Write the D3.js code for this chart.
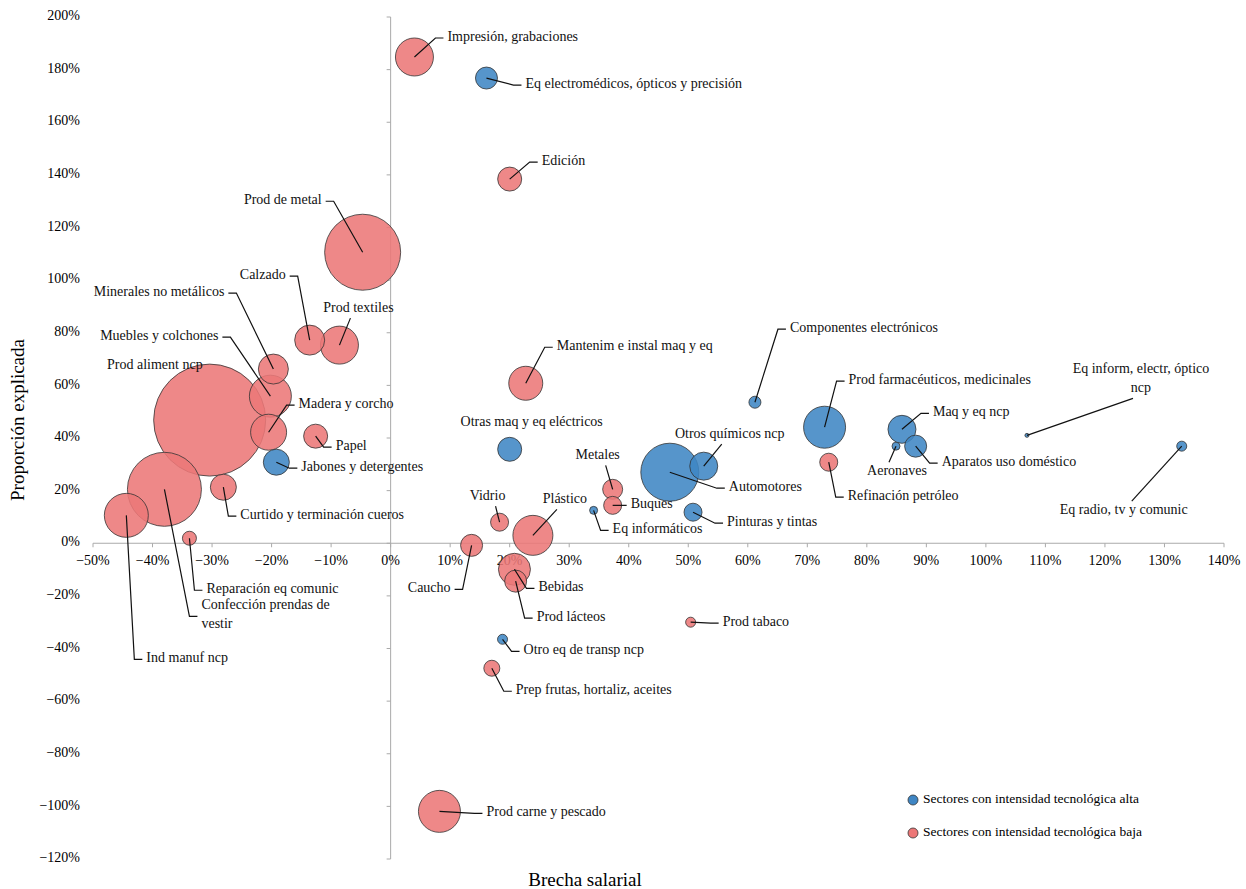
<!DOCTYPE html>
<html>
<head>
<meta charset="utf-8">
<script src="https://cdn.jsdelivr.net/npm/d3@7"></script>
<style>
  body { margin: 0; background: #fff; }
</style>
</head>
<body>
<svg id="chart" width="1246" height="889" font-family="'Liberation Serif', 'DejaVu Serif', serif"></svg>
<script>
// sectors: name, group (alta/baja), brecha salarial, proporcion explicada, size
const names = ["Impresión, grabaciones","Edición","Prod de metal","Calzado","Prod textiles","Minerales no metálicos",
  "Muebles y colchones","Madera y corcho","Prod aliment ncp","Papel","Confección prendas de vestir","Curtido y terminación cueros",
  "Ind manuf ncp","Reparación eq comunic","Mantenim e instal maq y eq","Metales","Buques","Vidrio","Plástico","Caucho",
  "Bebidas","Prod lácteos","Prod tabaco","Refinación petróleo","Prep frutas, hortaliz, aceites","Prod carne y pescado",
  "Eq electromédicos, ópticos y precisión","Otras maq y eq eléctricos","Jabones y detergentes","Eq informáticos","Automotores",
  "Otros químicos ncp","Pinturas y tintas","Componentes electrónicos","Prod farmacéuticos, medicinales","Maq y eq ncp",
  "Aparatos uso doméstico","Aeronaves","Eq inform, electr, óptico ncp","Eq radio, tv y comunic","Otro eq de transp ncp"];
const groups = ["baja","baja","baja","baja","baja","baja","baja","baja","baja","baja","baja","baja","baja","baja","baja","baja",
  "baja","baja","baja","baja","baja","baja","baja","baja","baja","baja",
  "alta","alta","alta","alta","alta","alta","alta","alta","alta","alta","alta","alta","alta","alta","alta"];
const brecha = [0.040,0.200,-0.047,-0.136,-0.086,-0.197,-0.202,-0.205,-0.304,-0.126,-0.380,-0.281,-0.444,-0.338,0.227,0.373,
  0.373,0.183,0.239,0.136,0.208,0.210,0.504,0.736,0.170,0.082,
  0.161,0.200,-0.192,0.341,0.469,0.526,0.508,0.612,0.729,0.859,0.882,0.849,1.069,1.329,0.188];
const proporcion = [1.848,1.384,1.106,0.772,0.753,0.662,0.559,0.422,0.468,0.407,0.205,0.213,0.106,0.019,0.608,0.205,
  0.144,0.080,0.030,-0.008,-0.099,-0.144,-0.300,0.308,-0.475,-1.019,
  1.768,0.357,0.308,0.125,0.270,0.293,0.118,0.536,0.441,0.433,0.369,0.369,0.410,0.369,-0.365];
const size = [361,144,1444,225,361,225,441,324,3136,144,1369,169,484,49,289,100,81,81,400,121,256,121,25,81,64,441,
  121,144,169,16,841,196,81,36,441,196,121,16,4,25,25];
const yTicks = d3.range(-1.2, 2.01, 0.2);
const xTicks = d3.range(-0.5, 1.41, 0.1);

// label layout (pixel offsets from bubble centre): dx, dy, anchor, leader kind
const labelLayout = [
  [33,-19,"start","elbow"],[32,-17,"start","elbow"],[-41,-51,"end","elbow"],[-24,-64,"end","elbow"],[19,-36,"middle","straight"],
  [-49,-76,"end","elbow"],[-52,-59,"end","elbow"],[30,-27,"start","elbow"],[-7,-54,"end","none"],[20,11,"start","elbow"],
  [37,127,"start","elbow"],[17,29,"start","elbow"],[20,144,"start","elbow"],[17,52,"start","elbow"],[31,-36,"start","elbow"],
  [-15,-33,"middle","straight"],[18,0,"start","elbow"],[-12,-25,"middle","straight"],[32,-35,"middle","straight"],[-21,44,"end","elbow"],
  [24,19,"start","elbow"],[21,37,"start","elbow"],[32,1,"start","elbow"],[19,35,"start","elbow"],[24,23,"start","elbow"],
  [47,2,"start","elbow"],
  [39,7,"start","elbow"],[22,-26,"middle","none"],[25,6,"start","elbow"],[19,20,"start","elbow"],[59,16,"start","elbow"],
  [26,-31,"middle","straight"],[34,11,"start","elbow"],[35,-73,"start","elbow"],[24,-46,"start","elbow"],[31,-16,"start","elbow"],
  [26,17,"start","elbow"],[1,26,"middle","straight"],[114,-65,"middle","straight"],[-58,65,"middle","straight"],[21,12,"start","elbow"]
];

const colors = { alta: "#3f86c4", baja: "#ec7777" };
const svg = d3.select("#chart");
const x = d3.scaleLinear().domain([-0.5, 1.4]).range([93, 1224]);
const y = d3.scaleLinear().domain([-1.2, 2.0]).range([859, 17]);
const r = d3.scaleSqrt().domain([0, 3136]).range([0, 56]);
const pct = d => d3.format(".0f")(d * 100) + "%";

// vertical axis at x=0
svg.append("line").attr("x1", x(0)).attr("x2", x(0)).attr("y1", y(2)).attr("y2", y(-1.2))
  .attr("stroke", "#aaa");
svg.selectAll(".ytick").data(yTicks).join("line")
  .attr("x1", x(0) - 4).attr("x2", x(0)).attr("y1", d => y(d)).attr("y2", d => y(d)).attr("stroke", "#aaa");
svg.selectAll(".ylab").data(yTicks).join("text")
  .attr("x", 80).attr("y", d => y(d)).attr("text-anchor", "end").attr("dominant-baseline", "middle")
  .attr("font-size", 14).text(d => pct(Math.round(d * 10) / 10));

// horizontal axis at y=0
svg.append("line").attr("x1", x(-0.5)).attr("x2", x(1.4)).attr("y1", y(0)).attr("y2", y(0)).attr("stroke", "#aaa");
svg.selectAll(".xtick").data(xTicks).join("line")
  .attr("x1", d => x(d)).attr("x2", d => x(d)).attr("y1", y(0)).attr("y2", y(0) + 4).attr("stroke", "#aaa");
svg.selectAll(".xlab").data(xTicks).join("text")
  .attr("x", d => x(d)).attr("y", y(0) + 19).attr("text-anchor", "middle").attr("dominant-baseline", "middle")
  .attr("font-size", 14).text(d => pct(Math.round(d * 10) / 10));

svg.append("text").attr("transform", "translate(24,420) rotate(-90)").attr("text-anchor", "middle")
  .attr("font-size", 19).text("Proporción explicada");
svg.append("text").attr("x", 585).attr("y", 886).attr("text-anchor", "middle")
  .attr("font-size", 19).text("Brecha salarial");

const data = names.map((n, i) => ({
  name: n, group: groups[i], bx: brecha[i], py: proporcion[i], s: size[i], lay: labelLayout[i]
}));

// bubbles, largest first
svg.append("g").selectAll("circle")
  .data(data.slice().sort((a, b) => b.s - a.s)).join("circle")
  .attr("cx", d => x(d.bx)).attr("cy", d => y(d.py)).attr("r", d => r(d.s))
  .attr("fill", d => colors[d.group]).attr("fill-opacity", 0.88)
  .attr("stroke", "#333").attr("stroke-width", 0.8);

// leaders and labels
const lg = svg.append("g");
data.forEach(d => {
  const cx = x(d.bx), cy = y(d.py);
  const [dx, dy, anchor, kind] = d.lay;
  const tx = cx + dx, ty = cy + dy;
  const lines = d.name === "Confección prendas de vestir" ? ["Confección prendas de", "vestir"]
    : d.name === "Eq inform, electr, óptico ncp" ? ["Eq inform, electr, óptico", "ncp"] : [d.name];
  const my = lines.length > 1 && anchor !== "middle" ? ty - 10 : ty;
  if (kind === "elbow") {
    const dir = anchor === "end" ? 1 : -1;
    const ex = tx + dir * 4, elx = tx + dir * 12;
    lg.append("path").attr("d", `M${cx},${cy}L${elx},${ty}L${ex},${ty}`)
      .attr("fill", "none").attr("stroke", "#111").attr("stroke-width", 1.2);
  } else if (kind === "straight") {
    const off = lines.length > 1 ? 28 : 9;
    const ey = dy < 0 ? ty + off : ty - 10;
    lg.append("line").attr("x1", cx).attr("y1", cy).attr("x2", tx - (dx > 0 ? 8 : -8)).attr("y2", ey)
      .attr("stroke", "#111").attr("stroke-width", 1.2);
  }
  const t = lg.append("text").attr("x", tx).attr("y", my)
    .attr("text-anchor", anchor).attr("dominant-baseline", "middle").attr("font-size", 14).attr("fill", "#111");
  lines.forEach((l, k) => t.append("tspan").attr("x", tx).attr("dy", k === 0 ? 0 : 19).text(l));
});

// legend
const legend = [["alta", "Sectores con intensidad tecnológica alta"], ["baja", "Sectores con intensidad tecnológica baja"]];
const lgd = svg.append("g").selectAll("g").data(legend).join("g")
  .attr("transform", (d, i) => `translate(913,${800 + i * 33})`);
lgd.append("circle").attr("r", 5).attr("fill", d => colors[d[0]]).attr("stroke", "#333").attr("stroke-width", 0.8);
lgd.append("text").attr("x", 10).attr("dominant-baseline", "middle").attr("font-size", 13.5).text(d => d[1]);
</script>
</body>
</html>
